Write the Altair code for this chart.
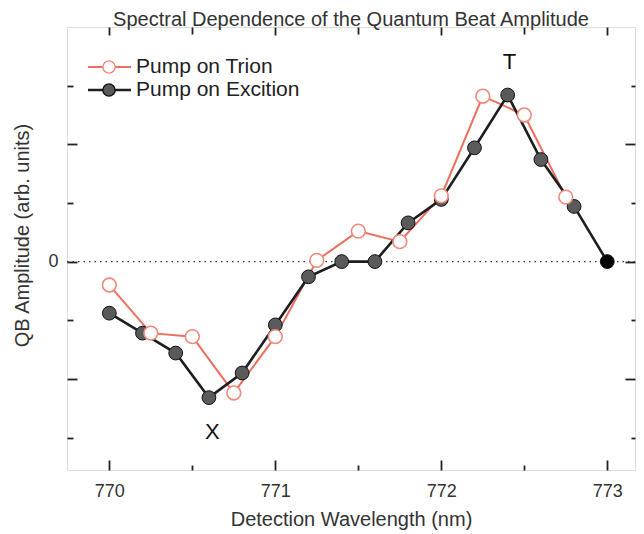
import altair as alt
import pandas as pd

# ---- data ----
trion_wl = [770.0, 770.25, 770.5, 770.75, 771.0, 771.25, 771.5, 771.75, 772.0, 772.25, 772.5, 772.75]
trion_amp = [-0.20, -0.61, -0.64, -1.12, -0.64, 0.01, 0.26, 0.17, 0.56, 1.41, 1.25, 0.55]

exc_wl = [770.0, 770.2, 770.4, 770.6, 770.8, 771.0, 771.2, 771.4, 771.6, 771.8,
          772.0, 772.2, 772.4, 772.6, 772.8, 773.0]
exc_amp = [-0.44, -0.61, -0.78, -1.16, -0.95, -0.54, -0.13, 0.0, 0.0, 0.33,
           0.53, 0.97, 1.42, 0.87, 0.47, 0.0]

x_ticks = [770, 770.5, 771, 771.5, 772, 772.5, 773]
y_ticks = [-1.5, -1, -0.5, 0, 0.5, 1, 1.5]
legend_labels = ["Pump on Trion", "Pump on Excition"]
peak_labels = ["T", "X"]
peak_wl = [772.41, 770.62]
peak_amp = [1.70, -1.45]

title_text = "Spectral Dependence of the Quantum Beat Amplitude"
x_title = "Detection Wavelength (nm)"
y_title = "QB Amplitude (arb. units)"

trion = pd.DataFrame({"wl": trion_wl, "amp": trion_amp})
exc = pd.DataFrame({"wl": exc_wl, "amp": exc_amp})
one = pd.DataFrame({"k": [0]})

FONT = "Liberation Sans"
RED = "#ee6f5f"
RED_PT = "#f08a7a"
DARK = "#1e1e1e"
GREY = "#5a5a5a"
AX = "#222222"

xs = alt.Scale(domain=[769.745, 773.167], nice=False, zero=False)
ys = alt.Scale(domain=[-1.777, 2.0], nice=False, zero=False)

major_x = "abs(datum.value - round(datum.value)) < 0.01"
major_y = "abs(datum.value - round(datum.value)) < 0.01"

ax_bottom = alt.Axis(
    orient="bottom", values=x_ticks, grid=False, domain=False,
    labelExpr=f"{major_x} ? format(datum.value, 'd') : ''",
    tickSize={"condition": {"test": major_x, "value": -10}, "value": -5},
    tickColor=AX, tickWidth=1.8, labelPadding=22, labelFontSize=18,
    labelColor="#333", labelFont=FONT,
    title=x_title, titleFontSize=20, titleFont=FONT, titleColor="#333",
    titleFontWeight="normal", titleY=49, titleBaseline="middle",
)
ax_top = alt.Axis(
    orient="top", values=x_ticks, grid=False, domain=False, labels=False,
    tickSize={"condition": {"test": major_x, "value": -8}, "value": -7},
    tickColor=AX, tickWidth=1.8, title=None,
)
ax_left = alt.Axis(
    orient="left", values=y_ticks, grid=False, domain=False,
    labelExpr="datum.value == 0 ? '0' : ''",
    tickSize={"condition": {"test": major_y, "value": -10}, "value": -6},
    tickColor=AX, tickWidth=1.8, labelPadding=19, labelFontSize=18,
    labelColor="#333", labelFont=FONT,
    title=y_title, titleFontSize=20, titleFont=FONT, titleColor="#333",
    titleFontWeight="normal", titleX=-45, titleY=208, titleBaseline="middle",
)
ax_right = alt.Axis(
    orient="right", values=y_ticks, grid=False, domain=False, labels=False,
    tickSize={"condition": {"test": major_y, "value": -10}, "value": -4},
    tickColor=AX, tickWidth=1.8, title=None,
)

# zero reference line
zero = alt.Chart(one).mark_rule(color="#333", strokeDash=[1.5, 4], strokeWidth=1.4).encode(
    y=alt.Y(datum=0, type="quantitative", scale=ys, axis=None)
)

trion_line = alt.Chart(trion).mark_line(color=RED, strokeWidth=2).encode(
    x=alt.X("wl:Q", scale=xs, axis=ax_top),
    y=alt.Y("amp:Q", scale=ys, axis=ax_right),
)
exc_line = alt.Chart(exc).mark_line(color=DARK, strokeWidth=2.6).encode(
    x=alt.X("wl:Q", scale=xs, axis=ax_bottom),
    y=alt.Y("amp:Q", scale=ys, axis=ax_left),
)
exc_pts = alt.Chart(exc).mark_point(
    shape="circle", filled=True, size=190, stroke="#111", strokeWidth=1, opacity=1
).encode(
    x=alt.X("wl:Q", scale=xs, axis=None),
    y=alt.Y("amp:Q", scale=ys, axis=None),
    fill=alt.condition("datum.wl > 772.9", alt.value("#000000"), alt.value(GREY)),
)
trion_pts = alt.Chart(trion).mark_point(
    shape="circle", filled=True, size=190, fill="white", stroke=RED_PT, strokeWidth=1.6, opacity=1
).encode(
    x=alt.X("wl:Q", scale=xs, axis=None),
    y=alt.Y("amp:Q", scale=ys, axis=None),
)

peaks = pd.DataFrame({"lab": peak_labels, "wl": peak_wl, "amp": peak_amp})
peak_text = alt.Chart(peaks).mark_text(font=FONT, fontSize=22, color="#111", baseline="middle").encode(
    x=alt.X("wl:Q", scale=xs, axis=None),
    y=alt.Y("amp:Q", scale=ys, axis=None),
    text="lab:N",
)

# manual legend (inside the plot, top-left)
leg = []
rows = [(legend_labels[0], RED, RED_PT, "white", 2, 40),
        (legend_labels[1], DARK, "#111", GREY, 2.6, 63)]
for lab, lc, sc, fc, lw, yy in rows:
    src = pd.DataFrame({"label": [lab]})
    leg.append(alt.Chart(src).mark_rule(color=lc, strokeWidth=lw).encode(
        x=alt.value(21), x2=alt.value(64), y=alt.value(yy)))
    leg.append(alt.Chart(src).mark_point(
        shape="circle", filled=True, size=150, fill=fc, stroke=sc, strokeWidth=1.4, opacity=1
    ).encode(x=alt.value(42), y=alt.value(yy)))
    leg.append(alt.Chart(src).mark_text(
        font=FONT, fontSize=21, color="#222", align="left", baseline="middle"
    ).encode(x=alt.value(69), y=alt.value(yy), text="label:N"))

chart = alt.layer(
    zero, trion_line, exc_line, exc_pts, trion_pts, peak_text, *leg
).properties(
    width=568, height=443,
    padding={"left": 59, "top": 19, "right": 1, "bottom": 64},
    autosize=alt.AutoSizeParams(type="none"),
    title=alt.TitleParams(title_text, font=FONT, fontSize=20, fontWeight="normal",
                          color="#333", anchor="middle", offset=3, dy=7),
).configure_view(
    stroke="#222", strokeWidth=1.8
).configure(background="white")

chart.save("out.html", embed_options={"renderer": "svg", "actions": False})
